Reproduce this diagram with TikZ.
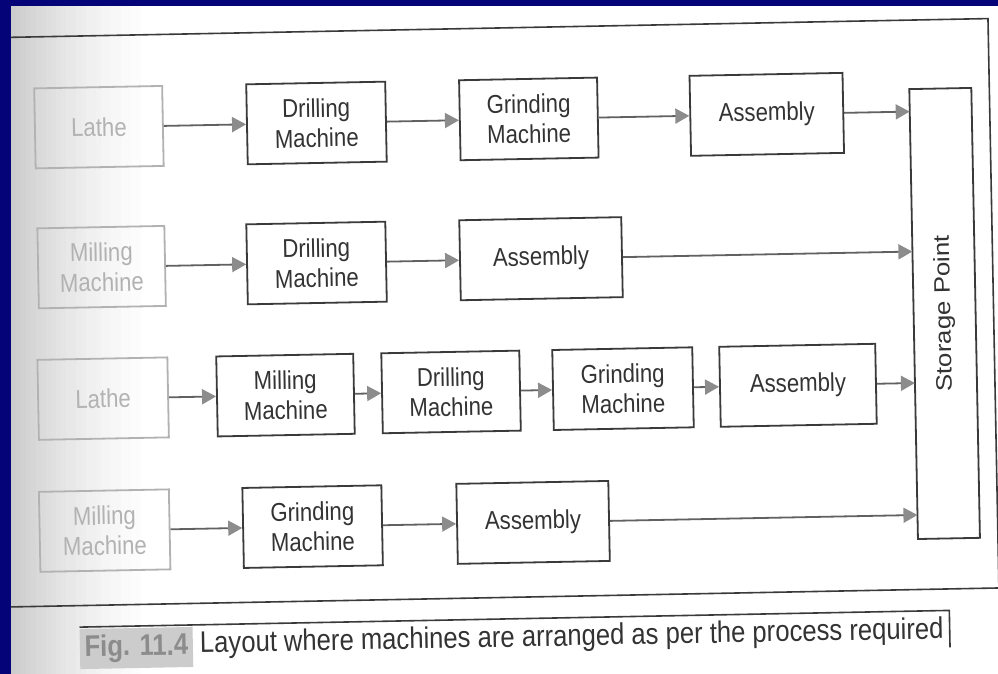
\documentclass[tikz,border=0pt]{standalone}
\usepackage{fontspec}
\newfontfamily\figsans{Liberation Sans}[FakeStretch=0.86]
\newfontfamily\figsanswide{Liberation Sans}[FakeStretch=1.16]
\usetikzlibrary{arrows.meta}

\begin{document}
\begin{tikzpicture}[x=1pt,y=-1pt,line width=0.4pt]
\definecolor{slidenavy}{RGB}{4,4,120}
\definecolor{inkgrey}{RGB}{58,58,58}
\definecolor{tipgrey}{RGB}{140,140,140}
\providecommand{\flab}{\figsans\fontsize{25.8}{30}\selectfont}
\providecommand{\fcap}{\figsans\fontsize{29.8}{34}\selectfont}
\tikzset{mach/.style={draw=inkgrey,line width=1.8pt,minimum height=80,inner sep=0pt,align=center,text=black!80,font=\flab},faded/.style={mach,draw=black!30,text=black!30},flow/.style={-{Triangle[length=14pt,width=15pt,color=tipgrey]},draw=black!62,line width=1.8pt},rule/.style={draw=inkgrey,line width=1.6pt}}
\useasboundingbox (0,0) rectangle (998,674);
\fill[slidenavy] (0,0) rectangle (998,674);
\fill[white] (11,6) rectangle (998,674);
\foreach \k in {0,...,27} {
  \pgfmathtruncatemacro{\shadeval}{round(20*(1-\k/28)^1.5)}
  \fill[black!\shadeval] (11+5*\k,6) rectangle (16.5+5*\k,674);
}
\begin{scope}
\clip (11,6) rectangle (998,674);
\begin{scope}[rotate around={1.1:(500,337)},transform shape]
\draw[rule] (0,28) -- (994,28) -- (994,597.5) -- (0,597.5);
\node[mach,minimum width=62,minimum height=450] (store) at (945,322) {};
\node[rotate=90,inner sep=0pt,text=black!80,font=\figsanswide\fontsize{22.3}{26}\selectfont] (storelab) at (store.center) {Storage Point};
\coordinate (in1) at (914,119.5);
\coordinate (in2) at (914,259.5);
\coordinate (in3) at (914,391);
\coordinate (in4) at (914,523);
\node[faded,minimum width=128] (lathe1) at (103,119.5) {Lathe};
\node[mach,minimum width=139] (drill1) at (320.6,119.5) {Drilling\\Machine};
\node[mach,minimum width=138] (grind1) at (533,119.5) {Grinding\\Machine};
\node[mach,minimum width=153] (asm1) at (771,119.5) {Assembly};
\node[faded,minimum width=127] (mill2) at (103,259.5) {Milling\\Machine};
\node[mach,minimum width=139] (drill2) at (318,259.5) {Drilling\\Machine};
\node[mach,minimum width=162] (asm2) at (542.5,259.5) {Assembly};
\node[faded,minimum width=130] (lathe3) at (102,391) {Lathe};
\node[mach,minimum width=137] (mill3) at (284.4,391) {Milling\\Machine};
\node[mach,minimum width=138] (drill3) at (450,391) {Drilling\\Machine};
\node[mach,minimum width=140] (grind3) at (622,391) {Grinding\\Machine};
\node[mach,minimum width=156] (asm3) at (797,391) {Assembly};
\node[faded,minimum width=130] (mill4) at (101,523) {Milling\\Machine};
\node[mach,minimum width=139] (grind4) at (309,523) {Grinding\\Machine};
\node[mach,minimum width=152] (asm4) at (529.5,523) {Assembly};
\draw[flow] (lathe1.east) -- (drill1.west);
\draw[flow] (drill1.east) -- (grind1.west);
\draw[flow] (grind1.east) -- (asm1.west);
\draw[flow] (asm1.east) -- (in1);
\draw[flow] (mill2.east) -- (drill2.west);
\draw[flow] (drill2.east) -- (asm2.west);
\draw[flow] (asm2.east) -- (in2);
\draw[flow] (lathe3.east) -- (mill3.west);
\draw[flow] (mill3.east) -- (drill3.west);
\draw[flow] (drill3.east) -- (grind3.west);
\draw[flow] (grind3.east) -- (asm3.west);
\draw[flow] (asm3.east) -- (in3);
\draw[flow] (mill4.east) -- (grind4.west);
\draw[flow] (grind4.east) -- (asm4.west);
\draw[flow] (asm4.east) -- (in4);
\node[fill=black!20,minimum width=113,minimum height=40,inner sep=0pt,font=\fcap\bfseries,text=black!45] (figno) at (130.5,641) {Fig. 11.4};
\draw[rule] (74,619) -- (944,619) -- (944,656);
\node[anchor=base west,inner sep=0pt,font=\fcap,text=black!80] (captxt) at (194,647) {Layout where machines are arranged as per the process required};
\end{scope}
\end{scope}
\end{tikzpicture}
\end{document}
